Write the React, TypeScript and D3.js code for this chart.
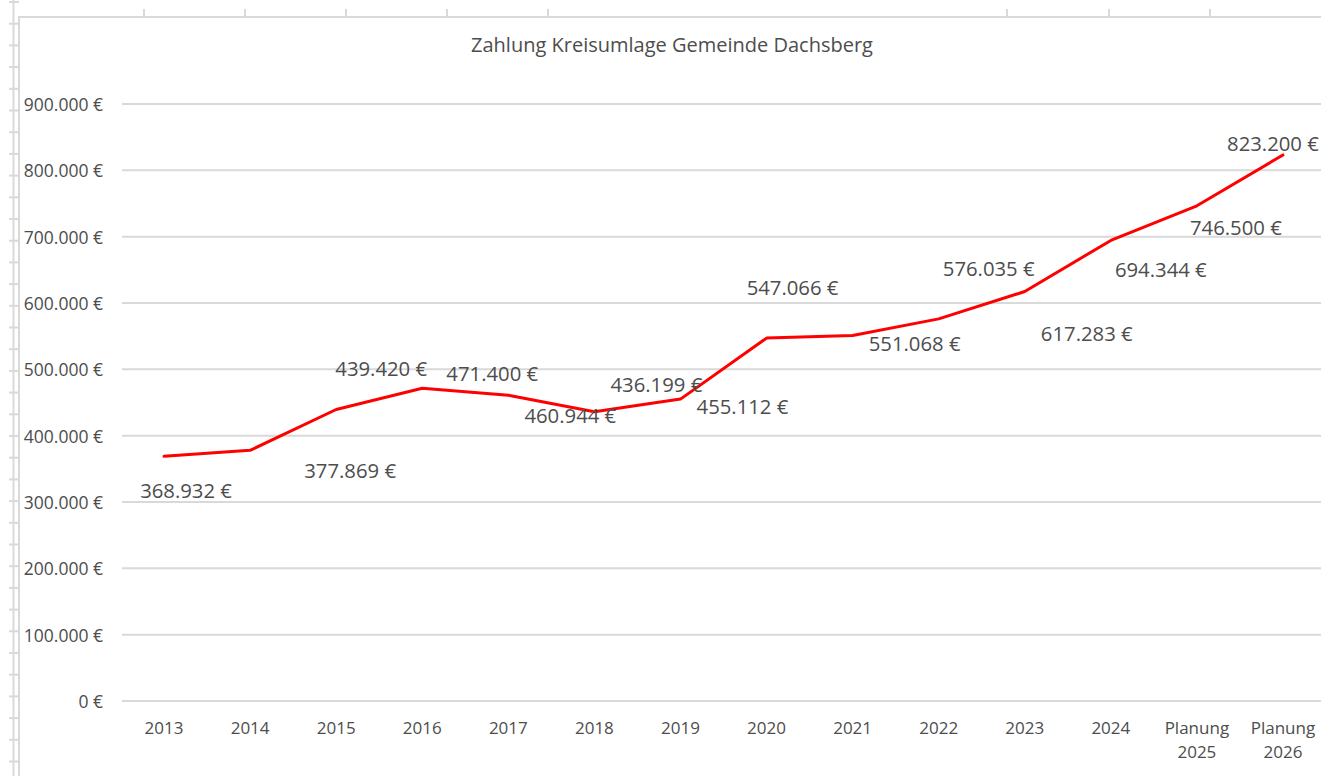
import * as d3 from 'd3';
import React, { Component } from 'react';

const years = ['2013', '2014', '2015', '2016', '2017', '2018', '2019', '2020', '2021', '2022', '2023', '2024', 'Planung 2025', 'Planung 2026'];
const payments = [368932, 377869, 439420, 471400, 460944, 436199, 455112, 547066, 551068, 576035, 617283, 694344, 746500, 823200];
const yTicks = [0, 100000, 200000, 300000, 400000, 500000, 600000, 700000, 800000, 900000];

// where Excel put each data label, relative to its point (px)
const labelOffsets = [[22, 34], [100, 20], [45, -42], [70, -15], [62, 20], [62, -28], [62, 7], [26, -51], [62, 8], [50, -51], [62, 41], [50, 29], [39, 21], [-10, -12]];

// spreadsheet bits around the chart
const sheetColTicks = [144, 245, 346, 447, 548, 1007, 1109, 1210];

const WIDTH = 1321;
const HEIGHT = 776;
const FONT = '"Open Sans", "Segoe UI", sans-serif';
const TEXT = '#4d4d4d';
const GRID = '#d9d9d9';

const fmt = (v: number) => d3.format(',')(v).replace(/,/g, '.') + ' €';

interface IAppProps {}

class App extends Component<IAppProps> {
    public render() {
        const xScale = d3.scaleBand<string>().domain(years).range([121, 1326]);
        const yScale = d3.scaleLinear().domain([0, 900000]).range([701, 104]);
        const cx = (c: string) => (xScale(c) as number) + xScale.bandwidth() / 2;

        const line = d3.line<number>()
            .x((d, i) => cx(years[i]))
            .y((d) => yScale(d));

        const rowTicks = d3.range(2, HEIGHT, 21.7);

        return (
            <div style={{ position: 'absolute', left: 0, top: 0 }}>
                <svg width={WIDTH} height={HEIGHT} style={{ display: 'block', background: '#fff' }}>
                    {/* sheet row/column marks */}
                    <line x1={13.5} x2={13.5} y1={0} y2={HEIGHT} stroke={GRID} strokeWidth={2} />
                    {rowTicks.map((y, i) => (
                        <line key={'r' + i} x1={9} x2={19} y1={y} y2={y} stroke={GRID} strokeWidth={2} />
                    ))}
                    {sheetColTicks.map((x, i) => (
                        <line key={'c' + i} x1={x} x2={x} y1={9} y2={17} stroke={GRID} strokeWidth={2} />
                    ))}
                    <path d={`M19,${HEIGHT} V17 H${WIDTH}`} fill="none" stroke={GRID} strokeWidth={2} />

                    <text x={672} y={44} textAnchor="middle" dominantBaseline="central"
                        fontFamily={FONT} fontSize={20} fill={TEXT}>
                        Zahlung Kreisumlage Gemeinde Dachsberg
                    </text>

                    {yTicks.map((t) => (
                        <g key={t}>
                            <line x1={122} x2={WIDTH} y1={yScale(t)} y2={yScale(t)} stroke={GRID} strokeWidth={2} />
                            <text x={103} y={yScale(t)} textAnchor="end" dominantBaseline="central"
                                fontFamily={FONT} fontSize={17.5} fill={TEXT}>
                                {t === 0 ? '0 €' : fmt(t)}
                            </text>
                        </g>
                    ))}

                    {years.map((c) => {
                        const parts = c.split(' ');
                        return (
                            <text key={c} x={cx(c)} y={727} textAnchor="middle" dominantBaseline="central"
                                fontFamily={FONT} fontSize={17} fill={TEXT}>
                                {parts.map((p, j) => (
                                    <tspan key={j} x={cx(c)} dy={j === 0 ? 0 : 24}>{p}</tspan>
                                ))}
                            </text>
                        );
                    })}

                    <path d={line(payments) as string} fill="none" stroke="#ff0000" strokeWidth={3}
                        strokeLinejoin="round" strokeLinecap="round" />

                    {payments.map((v, i) => (
                        <text key={'l' + i} x={cx(years[i]) + labelOffsets[i][0]} y={yScale(v) + labelOffsets[i][1]}
                            textAnchor="middle" dominantBaseline="central"
                            fontFamily={FONT} fontSize={20.3} fill={TEXT}>
                            {fmt(v)}
                        </text>
                    ))}
                </svg>
            </div>
        );
    }
}

export default App;
